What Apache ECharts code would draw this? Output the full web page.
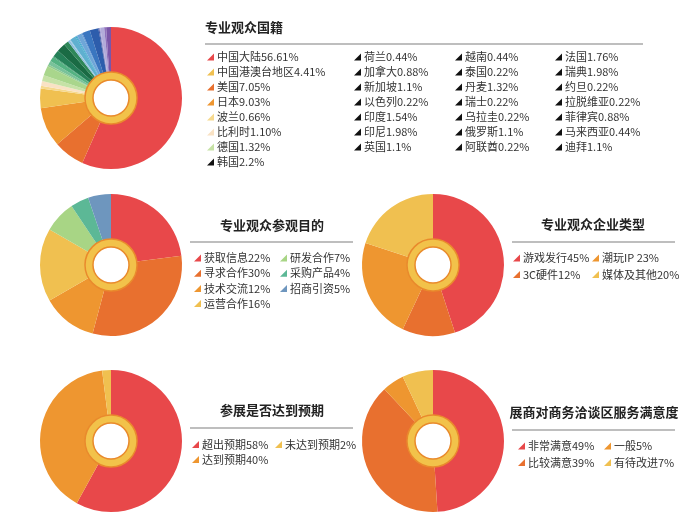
<!DOCTYPE html>
<html><head><meta charset="utf-8">
<script src="https://cdn.jsdelivr.net/npm/echarts@6/dist/echarts.min.js"></script>
<style>html,body{margin:0;padding:0;background:#fff}#c{width:700px;height:524px}</style>
</head><body><div id="c"></div>
<script>
// ---------- Data ----------
// 专业观众国籍 (pie order, clockwise from 12 o'clock)
var natNames = ['中国大陆','美国','日本','中国港澳台地区','波兰','比利时','德国','韩国','荷兰','加拿大','新加坡','以色列','印度','印尼','英国','越南','泰国','丹麦','瑞士','乌拉圭','俄罗斯','阿联酋','法国','瑞典','约旦','拉脱维亚','菲律宾','马来西亚','迪拜'];
var natValues = [56.61,7.05,9.03,4.41,0.66,1.10,1.32,2.2,0.44,0.88,1.1,0.22,1.54,1.98,1.1,0.44,0.22,1.32,0.22,0.22,1.1,0.22,1.76,1.98,0.22,0.22,0.88,0.44,1.1];
var natPctText = ['56.61%','7.05%','9.03%','4.41%','0.66%','1.10%','1.32%','2.2%','0.44%','0.88%','1.1%','0.22%','1.54%','1.98%','1.1%','0.44%','0.22%','1.32%','0.22%','0.22%','1.1%','0.22%','1.76%','1.98%','0.22%','0.22%','0.88%','0.44%','1.1%'];
var natLegendCols = [
  ['中国大陆','中国港澳台地区','美国','日本','波兰','比利时','德国','韩国'],
  ['荷兰','加拿大','新加坡','以色列','印度','印尼','英国'],
  ['越南','泰国','丹麦','瑞士','乌拉圭','俄罗斯','阿联酋'],
  ['法国','瑞典','约旦','拉脱维亚','菲律宾','马来西亚','迪拜']
];
var natColoredIcons = ['中国大陆','中国港澳台地区','美国','日本','波兰','比利时','德国'];

// 专业观众参观目的
var purposeNames = ['获取信息','寻求合作','技术交流','运营合作','研发合作','采购产品','招商引资'];
var purposeValues = [22,30,12,16,7,4,5];
var purposeLegendCols = [['获取信息','寻求合作','技术交流','运营合作'],['研发合作','采购产品','招商引资']];

// 专业观众企业类型
var typeNames = ['游戏发行','3C硬件','潮玩IP','媒体及其他'];
var typeValues = [45,12,23,20];
var typeLegendCols = [['游戏发行','3C硬件'],['潮玩IP','媒体及其他']];

// 参展是否达到预期
var expectNames = ['超出预期','达到预期','未达到预期'];
var expectValues = [58,40,2];
var expectLegendCols = [['超出预期','达到预期'],['未达到预期']];

// 展商对商务洽谈区服务满意度
var satisNames = ['非常满意','比较满意','一般','有待改进'];
var satisValues = [49,39,5,7];
var satisLegendCols = [['非常满意','比较满意'],['一般','有待改进']];

// ---------- Styles ----------
var natColors = ['#E8484A','#E8702F','#EE9630','#F0C050','#F6D98E','#F9E2C4','#C6E2A6','#A9D68C','#93CC8E','#79C29A','#54B282','#3C9D6E','#258058','#1A6B44','#2E8758','#8CBEDC','#9CC6E2','#5FB0D0','#2CA7C6','#49A0D0','#6EA6D8','#5A8FD0','#3A76C0','#2D5DAC','#3A4E9E','#9A98D2','#B2ABDA','#8F72BC','#7A55A8'];
var purposeColors = ['#E8484A','#E8702F','#EE9630','#F0C050','#A8D585','#5CB896','#6E96BE'];
var typeColors = ['#E8484A','#E8702F','#EE9630','#F0C050'];
var expectColors = ['#E8484A','#EE9630','#F0C050'];
var satisColors = ['#E8484A','#E8702F','#EE9630','#F0C050'];

var FONT = '"Noto Sans CJK SC", "Noto Sans", sans-serif';
var TRI = 'path://M10,0L10,10L0,10Z';
var labelMap = {};
function addLabels(names, texts){ names.forEach(function(n,i){ labelMap[n] = texts[i]; }); }
addLabels(natNames, natNames.map(function(n,i){return n + natPctText[i];}));
addLabels(purposeNames, purposeNames.map(function(n,i){return n + purposeValues[i] + '%';}));
addLabels(typeNames, typeNames.map(function(n,i){return n + (n==='潮玩IP' ? ' ' : '') + typeValues[i] + '%';}));
addLabels(expectNames, expectNames.map(function(n,i){return n + expectValues[i] + '%';}));
addLabels(satisNames, satisNames.map(function(n,i){return n + satisValues[i] + '%';}));

function pieSeries(names, values, colors, center){
  return {
    type:'pie', center:center, radius:[26,71], startAngle:90, clockwise:true,
    label:{show:false}, labelLine:{show:false}, silent:true,
    itemStyle:{borderWidth:0},
    data: names.map(function(n,i){ return {name:n, value:values[i], itemStyle:{color:colors[i]}}; })
  };
}
function ringSeries(center){
  return {
    type:'pie', center:center, radius:[18,26], silent:true,
    label:{show:false}, labelLine:{show:false},
    itemStyle:{color:'#F2C24A', borderColor:'#E98A2C', borderWidth:1.5},
    data:[{name:'__ring'+center.join('_'), value:1}]
  };
}
function legendCol(names, left, top, gap, blackSet){
  return {
    orient:'vertical', left:left, top:top, padding:0,
    itemWidth:7, itemHeight:7, itemGap:gap, icon:TRI, selectedMode:false,
    textStyle:{fontSize:11, color:'#333', fontFamily:FONT, lineHeight:11, padding:[0,0,0,-2]},
    formatter:function(n){ return labelMap[n]; },
    data: names.map(function(n){
      var o = {name:n};
      if (blackSet && blackSet.indexOf(n) < 0) o.itemStyle = {color:'#111'};
      return o;
    })
  };
}

var legends = [
  legendCol(natLegendCols[0], 207, 51.5, 4, natColoredIcons),
  legendCol(natLegendCols[1], 354, 51.5, 4, []),
  legendCol(natLegendCols[2], 455, 51.5, 4, []),
  legendCol(natLegendCols[3], 555, 51.5, 4, []),
  legendCol(purposeLegendCols[0], 194, 252.5, 4.2),
  legendCol(purposeLegendCols[1], 280, 252.5, 4.2),
  legendCol(typeLegendCols[0], 513, 252.5, 5.6),
  legendCol(typeLegendCols[1], 592, 252.5, 5.6),
  legendCol(expectLegendCols[0], 192, 439, 4),
  legendCol(expectLegendCols[1], 275, 439, 4),
  legendCol(satisLegendCols[0], 518, 440.5, 5.6),
  legendCol(satisLegendCols[1], 604, 440.5, 5.6)
];

function titleText(text, x, y, align){
  return {type:'text', x:x, y:y, silent:true,
    style:{text:text, fill:'#222', font:'bold 13px ' + FONT, textAlign:align||'center', textVerticalAlign:'middle'}};
}
function sepLine(x1, x2, y){
  return {type:'line', silent:true, shape:{x1:x1, y1:y, x2:x2, y2:y}, style:{stroke:'#A8A8A8', lineWidth:1.5}};
}

var chart = echarts.init(document.getElementById('c'), null, {renderer:'canvas'});
chart.setOption({
  backgroundColor:'#fff',
  animation:false,
  legend: legends,
  graphic: [
    titleText('专业观众国籍', 205, 27, 'left'), sepLine(205, 643, 44),
    titleText('专业观众参观目的', 272, 225), sepLine(190, 353, 242),
    titleText('专业观众企业类型', 593, 224), sepLine(512, 675, 242),
    titleText('参展是否达到预期', 272, 410), sepLine(190, 353, 428),
    titleText('展商对商务洽谈区服务满意度', 594, 412), sepLine(512, 675, 430)
  ],
  series: [
    pieSeries(natNames, natValues, natColors, [111, 98]), ringSeries([111, 98]),
    pieSeries(purposeNames, purposeValues, purposeColors, [111, 265]), ringSeries([111, 265]),
    pieSeries(typeNames, typeValues, typeColors, [433, 265]), ringSeries([433, 265]),
    pieSeries(expectNames, expectValues, expectColors, [111, 441]), ringSeries([111, 441]),
    pieSeries(satisNames, satisValues, satisColors, [433, 441]), ringSeries([433, 441])
  ]
});
</script></body></html>
